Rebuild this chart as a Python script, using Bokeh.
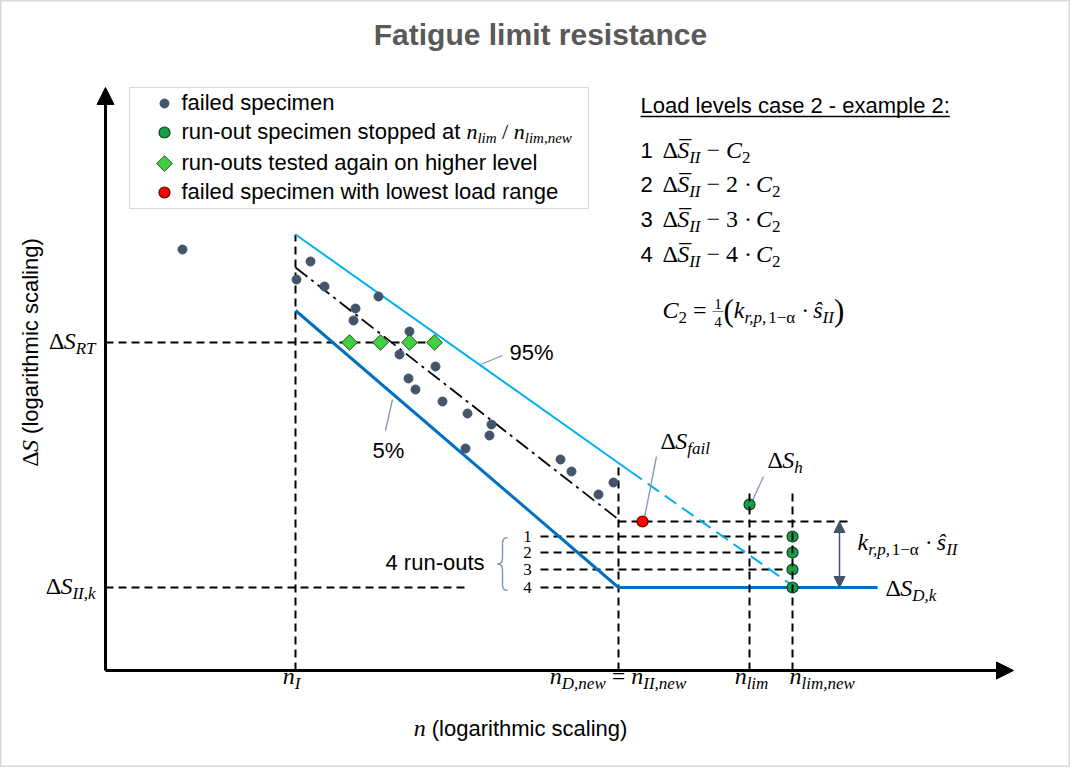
import math
from bokeh.plotting import figure
from bokeh.models import Range1d, ColumnDataSource, Arrow, NormalHead
from bokeh.embed import file_html
from bokeh.resources import INLINE
from bokeh.core.properties import value

# ---------------- schematic data (log-scaled units) ----------------
TITLE = "Fatigue limit resistance"
n_I, n_D_new, n_lim, n_lim_new = 1.90, 5.13, 6.44, 6.87
S_RT, S_IIk, S_fail, S_h = 3.28, 0.83, 1.49, 1.66
run_out_levels = [1.34, 1.18, 1.01, 0.83]

failed_n = [0.77, 2.05, 1.91, 2.19, 2.73, 2.50, 2.48, 3.04, 2.94, 3.30, 3.03,
            3.10, 3.37, 3.62, 3.86, 3.84, 3.60, 4.55, 4.66, 4.93, 5.08]
failed_S = [4.21, 4.09, 3.91, 3.84, 3.74, 3.62, 3.50, 3.39, 3.16, 3.04, 2.92,
            2.81, 2.69, 2.57, 2.46, 2.35, 2.22, 2.11, 1.99, 1.76, 1.88]
retest_n = [2.44, 2.75, 3.04, 3.29]
fail_low_n = [5.37]

p95_n = [1.90, 5.25, 6.87]
p95_S = [4.36, 1.99, 0.85]
mean_n = [1.90, 5.13]
mean_S = [4.03, 1.51]
p05_n = [1.90, 5.13, 7.72]
p05_S = [3.60, 0.83, 0.83]

legend_labels = ["failed specimen", "run-out specimen stopped at ",
                 "run-outs tested again on higher level",
                 "failed specimen with lowest load range"]
box_title = "Load levels case 2 - example 2:"

# ---------------- colours ----------------
C_FAIL = "#44546a"
C_GREEN, C_GREEN_L = "#16a04a", "#123d20"
C_DIAM, C_DIAM_L = "#3fd13f", "#1f4f1f"
C_RED, C_RED_L = "#ff0000", "#5a0000"
C_95, C_05 = "#00b0f0", "#0070c0"
C_LEAD = "#8497b0"

PX = 0.01  # data units per screen pixel (figure sized to give 100 px / unit)

p = figure(width=1070, height=767, x_range=Range1d(-1.05, 9.65), y_range=Range1d(-0.97, 6.70),
           output_backend="svg", toolbar_location=None, x_axis_location=None,
           y_axis_location=None, min_border=0, background_fill_color="white",
           border_fill_color="white", outline_line_color="#d9d9d9", outline_line_width=2)
p.grid.visible = False

# ---------------- text helpers ----------------
SANS = {' ': .278, '-': .333, '(': .333, ')': .333, '%': .889, ':': .278, ',': .278, '/': .278,
        'a': .556, 'b': .556, 'c': .5, 'd': .556, 'e': .556, 'f': .278, 'g': .556, 'h': .556,
        'i': .222, 'j': .222, 'k': .5, 'l': .222, 'm': .833, 'n': .556, 'o': .556, 'p': .556,
        'q': .556, 'r': .333, 's': .5, 't': .278, 'u': .556, 'v': .5, 'w': .722, 'x': .5,
        'y': .5, 'z': .5, 'L': .556, 'F': .611}
SANS.update({d: .556 for d in "0123456789"})
RM = {' ': .25, '=': .564, '−': .564, '·': .25, '(': .333, ')': .333, ',': .25, '/': .278,
      '_': .5, '—': 1.0, 'α': .53, 'Δ': .612}
RM.update({d: .5 for d in "0123456789"})
IT = {' ': .25, 'n': .5, 'I': .333, 'l': .278, 'i': .278, 'm': .722, 'e': .444, 'w': .667,
      'D': .722, 'S': .5, 'R': .611, 'T': .556, 'k': .444, 'h': .5, 'f': .278, 'a': .5,
      'C': .667, 'r': .389, 'p': .5, 's': .389, ',': .25, 'ŝ': .389}
KIND = {"sans": ("Liberation Sans", "normal", SANS, 0.346),
        "rm": ("Liberation Serif", "normal", RM, 0.338),
        "it": ("Liberation Serif", "italic", IT, 0.338)}

T = {k: [] for k in ("x", "y", "text", "font", "style", "size", "color")}
R = {k: [] for k in ("x", "y", "text", "font", "style", "size", "color")}


def sg(text, kind, size, dy=0.0, dx=0.0, adv=True):
    return dict(text=text, kind=kind, size=size, dy=dy, dx=dx, adv=adv)


def width(s, text=None):
    tab = KIND[s["kind"]][2]
    t = s["text"] if text is None else text
    return sum(tab.get(c, 0.5) for c in t) * s["size"]


def lead_w(s):
    t = s["text"]
    return width(s, t[:len(t) - len(t.lstrip(" "))])


def push(D, x, y, s, color):
    fam, sty, _, _ = KIND[s["kind"]]
    D["x"].append(x); D["y"].append(y); D["text"].append(s["text"].strip(" "))
    D["font"].append(fam); D["style"].append(sty); D["size"].append(f'{s["size"]}px')
    D["color"].append(color)


def rich(x, y, segs, align="left", key=None, color="#000000"):
    """Place a run of text pieces; y is the alphabetic baseline (data units)."""
    total = sum(width(s) for s in segs if s["adv"])
    if key is not None:
        shift = sum(width(s) for s in segs[:key] if s["adv"]) + width(segs[key]) / 2
    else:
        shift = {"left": 0, "center": total / 2, "right": total}[align]
    cur = x - shift * PX
    for s in segs:
        mid = KIND[s["kind"]][3] * s["size"]
        push(T, cur + (s["dx"] + lead_w(s)) * PX, y + (mid - s["dy"]) * PX, s, color)
        if s["adv"]:
            cur += width(s) * PX
    return total


def rich_up(x, y_center, segs, color="#000000"):
    total = sum(width(s) for s in segs)
    cur = y_center - total / 2 * PX
    for s in segs:
        mid = KIND[s["kind"]][3] * s["size"]
        push(R, x - mid * PX, cur + lead_w(s) * PX, s, color)
        cur += width(s) * PX


def dS(sub, size=24, sub_size=17):
    return [sg("Δ", "rm", size), sg("S", "it", size), sg(sub, "it", sub_size, dy=5)]


def nn(sub, size=24, sub_size=17, dy=5):
    return [sg("n", "it", size), sg(sub, "it", sub_size, dy=dy)]


# ---------------- legend box ----------------
p.quad(left=[0.24], right=[4.83], top=[5.83], bottom=[4.62], fill_color="white",
       line_color="#d9d9d9", line_width=1.2)

# ---------------- dashed guide lines ----------------
guide_xs = [[0, 3.29], [0, 3.64], [n_D_new, 7.45]] + [[4.35, n_lim_new] for _ in run_out_levels] + \
           [[n_I, n_I], [n_D_new, n_D_new]]
guide_ys = [[S_RT, S_RT], [S_IIk, S_IIk], [S_fail, S_fail]] + [[lv, lv] for lv in run_out_levels] + \
           [[0, p95_S[0]], [0, 2.08]]
p.multi_line(xs=guide_xs, ys=guide_ys, line_color="black", line_width=2, line_dash="8 5")

# ---------------- S-N lines ----------------
p.line(p95_n[:2], p95_S[:2], line_color=C_95, line_width=2)
p.line(p95_n[1:], p95_S[1:], line_color=C_95, line_width=2, line_dash="14 7")
p.line(mean_n, mean_S, line_color="black", line_width=1.8, line_dash="15 5 3 5")
p.line(p05_n, p05_S, line_color=C_05, line_width=3)

# leader lines
p.segment(x0=[3.75, 2.80, 5.39, 6.47], y0=[3.06, 2.40, 1.53, 1.70],
          x1=[3.97, 2.87, 5.51, 6.58], y1=[3.15, 2.71, 2.14, 1.94],
          line_color=C_LEAD, line_width=1.3)

# curly brace for the 4 run-outs
bxr, bxm, bxl = 4.02, 3.97, 3.92
byt, bym, byb, bq = 1.33, 1.065, 0.80, 0.06
p.quadratic(x0=[bxr, bxm, bxl, bxm], y0=[byt, bym + bq, bym, byb + bq],
            x1=[bxm, bxl, bxm, bxr], y1=[byt - bq, bym, bym - bq, byb],
            cx=[bxm, bxm, bxm, bxm], cy=[byt, bym, bym, byb], line_color=C_LEAD, line_width=1.5)
p.segment(x0=[bxm, bxm], y0=[byt - bq, bym - bq], x1=[bxm, bxm], y1=[bym + bq, byb + bq],
          line_color=C_LEAD, line_width=1.5)

# ---------------- specimens ----------------
p.scatter(failed_n, failed_S, size=9, fill_color=C_FAIL, line_color=C_FAIL)
p.scatter(retest_n, [S_RT] * len(retest_n), marker="square", angle=math.pi / 4, size=11,
          fill_color=C_DIAM, line_color=C_DIAM_L, line_width=1)
p.scatter(fail_low_n, [S_fail], size=11, fill_color=C_RED, line_color=C_RED_L, line_width=1.2)
runout_n = [n_lim] + [n_lim_new] * len(run_out_levels)
runout_S = [S_h] + run_out_levels
p.scatter(runout_n, runout_S, size=11, fill_color=C_GREEN, line_color=C_GREEN_L, line_width=1.2)
p.multi_line(xs=[[n_lim, n_lim], [n_lim_new, n_lim_new]], ys=[[0, 1.81], [0, 1.81]],
             line_color="black", line_width=2, line_dash="8 5")

# legend markers
leg_x, leg_y = 0.59, [5.67, 5.38, 5.07, 4.78]
p.scatter([leg_x], [leg_y[0]], size=9, fill_color=C_FAIL, line_color=C_FAIL)
p.scatter([leg_x], [leg_y[1]], size=11, fill_color=C_GREEN, line_color=C_GREEN_L, line_width=1.2)
p.scatter([leg_x], [leg_y[2]], marker="square", angle=math.pi / 4, size=11,
          fill_color=C_DIAM, line_color=C_DIAM_L, line_width=1)
p.scatter([leg_x], [leg_y[3]], size=11, fill_color=C_RED, line_color=C_RED_L, line_width=1.2)

# ---------------- axes ----------------
p.add_layout(Arrow(end=NormalHead(size=17, fill_color="black", line_color="black", line_width=1),
                   x_start=0, y_start=0, x_end=0, y_end=5.83, line_width=3, line_color="black"))
p.add_layout(Arrow(end=NormalHead(size=17, fill_color="black", line_color="black", line_width=1),
                   x_start=0, y_start=0, x_end=9.08, y_end=0, line_width=3, line_color="black"))
p.add_layout(Arrow(start=NormalHead(size=11, fill_color=C_FAIL, line_color=C_FAIL, line_width=1),
                   end=NormalHead(size=11, fill_color=C_FAIL, line_color=C_FAIL, line_width=1),
                   x_start=7.34, y_start=S_fail, x_end=7.34, y_end=S_IIk, line_width=1.5,
                   line_color=C_FAIL))

# ---------------- texts ----------------
for i, lab in enumerate(legend_labels):
    segs = [sg(lab, "sans", 22)]
    if i == 1:
        segs += nn("lim", 22, 15, 4) + [sg(" / ", "rm", 22)] + nn("lim,new", 22, 15, 4)
    rich(0.76, leg_y[i] - 0.065, segs)

rich(-0.10, S_RT - 0.07, dS("RT"), align="right")
rich(-0.10, S_IIk - 0.07, dS("II,k"), align="right")

yb = -0.14
rich(n_I - 0.04, yb, nn("I"), align="center")
rich(n_D_new, yb, nn("D,new") + [sg(" ", "rm", 24), sg("=", "rm", 24), sg(" ", "rm", 24)] + nn("II,new"), key=3)
rich(n_lim + 0.02, yb, nn("lim"), align="center")
rich(n_lim_new - 0.03, yb, nn("lim,new"))
rich(4.15, -0.66, [sg("n", "it", 24), sg(" (logarithmic scaling)", "sans", 22)], align="center")

rich(4.04, 3.10, [sg("95%", "sans", 22)])
rich(2.67, 2.12, [sg("5%", "sans", 22)])
rich(5.55, 2.21, dS("fail"))
rich(6.62, 2.02, dS("h"))
k_expr = [sg("k", "it", 24), sg("r,p,", "it", 17, dy=5), sg("1−α", "rm", 17, dy=5),
          sg(" · ", "rm", 24), sg("ŝ", "it", 24), sg("II", "it", 17, dy=5)]
rich(7.52, 1.20, k_expr)
rich(7.80, 0.74, dS("D,k"))
rich(2.80, 1.00, [sg("4 run-outs", "sans", 22)])
for i, lv in enumerate(run_out_levels):
    rich(4.22, lv - 0.055, [sg(str(i + 1), "rm", 17)], align="center")

# load level box (top right)
bx = 5.35
w_title = rich(bx, 5.57, [sg(box_title, "sans", 22)])
p.segment(x0=[bx], y0=[5.54], x1=[bx + w_title * PX], y1=[5.54], line_color="black", line_width=1.5)
row_base = [5.12, 4.78, 4.43, 4.08]
for i, ybase in enumerate(row_base):
    k = i + 1
    rich(bx, ybase, [sg(str(k), "sans", 22)])
    segs = [sg("Δ", "rm", 24), sg("_", "rm", 24, dy=-21, dx=2, adv=False), sg("S", "it", 24),
            sg("II", "it", 17, dy=5), sg(" − ", "rm", 24)]
    if k > 1:
        segs.append(sg(f"{k} · ", "rm", 24))
    segs += [sg("C", "it", 24), sg("2", "rm", 17, dy=5)]
    rich(bx + 0.22, ybase, segs)

c2 = [sg("C", "it", 24), sg("2", "rm", 17, dy=5), sg(" = ", "rm", 24),
      sg("1", "rm", 15, dy=-9, dx=1.75, adv=False), sg("4", "rm", 15, dy=9, dx=1.75, adv=False),
      sg("—", "rm", 11, dy=-4.5), sg("(", "rm", 31, dy=2)] + k_expr + [sg(")", "rm", 31, dy=2)]
rich(5.57, 3.52, c2)

p.text(x="x", y="y", text="text", text_font="font", text_font_style="style",
       text_font_size="size", text_color="color", text_align="left",
       text_baseline="middle", source=ColumnDataSource(T))

rich_up(-0.67, 3.18, [sg("Δ", "rm", 24), sg("S", "it", 24), sg(" (logarithmic scaling)", "sans", 22)])
p.text(x="x", y="y", text="text", text_font="font", text_font_style="style",
       text_font_size="size", text_color="color", text_align="left", angle=math.pi / 2,
       text_baseline="middle", source=ColumnDataSource(R))

p.text(x=[4.35], y=[6.36], text=[TITLE], text_font=value("Liberation Sans"),
       text_font_style="bold", text_font_size="30px", text_color="#595959",
       text_align="center", text_baseline="middle")

open("out.html", "w").write(file_html(p, INLINE))
